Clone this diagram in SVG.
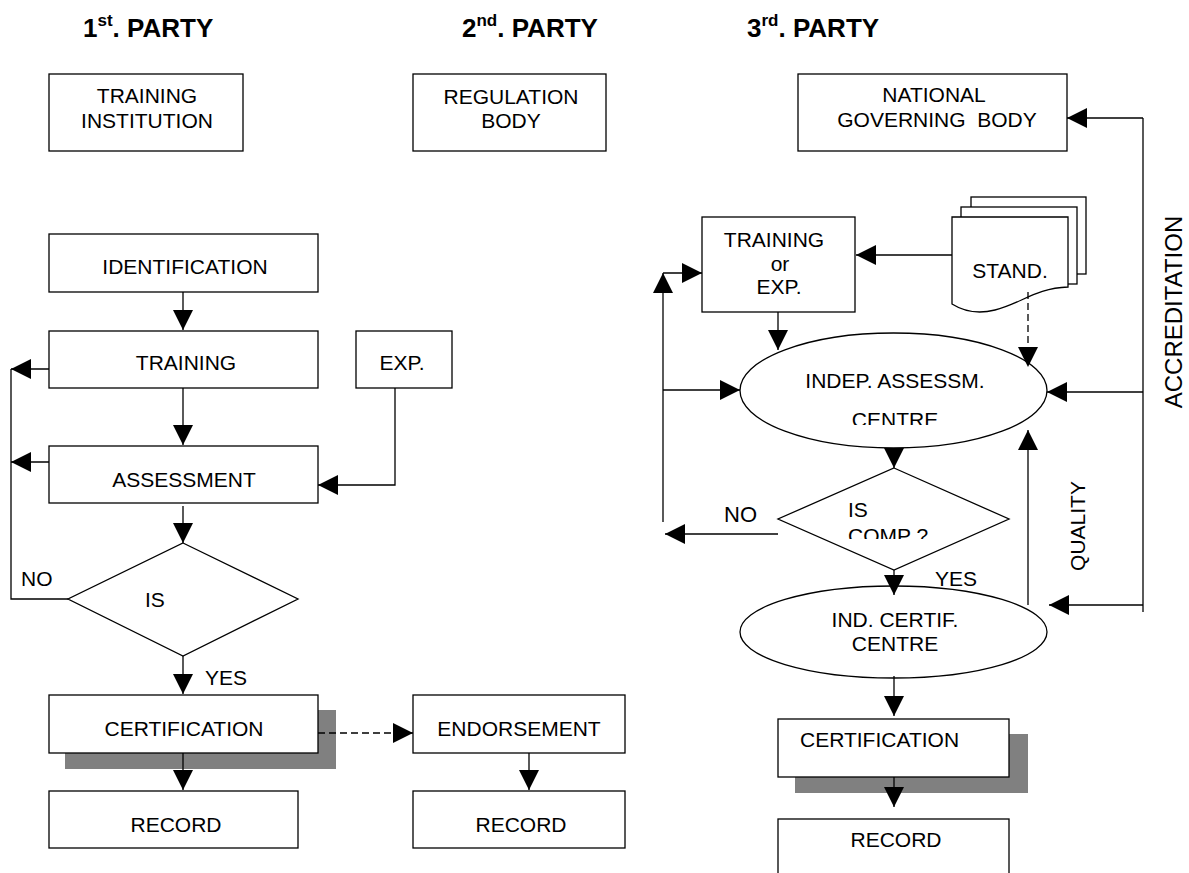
<svg xmlns="http://www.w3.org/2000/svg" width="1189" height="873" viewBox="0 0 1189 873">
<style>
  .box { fill: #fff; stroke: #000; stroke-width: 1.3; }
  .shadow { fill: #808080; stroke: none; }
  .t { font-family: "Liberation Sans", Arial, sans-serif; font-size: 21px; fill: #000; }
  .m { text-anchor: middle; }
  .h { font-family: "Liberation Sans", Arial, sans-serif; font-size: 26px; font-weight: bold; fill: #000; }
  .c { fill: none; stroke: #000; stroke-width: 1.3; }
  .a { marker-end: url(#arr); }
  .d { stroke-dasharray: 7 4; }
</style>
<defs>
  <marker id="arr" viewBox="0 0 20 20" refX="20" refY="10" markerWidth="20" markerHeight="20" markerUnits="userSpaceOnUse" orient="auto">
    <path d="M0,0 L20,10 L0,20 Z" fill="#000"/>
  </marker>
  <clipPath id="clipCentre"><rect x="740" y="380" width="310" height="45"/></clipPath>
  <clipPath id="clipComp"><rect x="778" y="500" width="240" height="39"/></clipPath>
</defs>
<rect width="1189" height="873" fill="#fff"/>

<g id="headers">
  <text class="h" x="83" y="37">1<tspan font-size="17" dy="-11">st</tspan><tspan dy="11">. PARTY</tspan></text>
  <text class="h" x="462" y="37">2<tspan font-size="17" dy="-11">nd</tspan><tspan dy="11">. PARTY</tspan></text>
  <text class="h" x="747" y="37">3<tspan font-size="17" dy="-11">rd</tspan><tspan dy="11">. PARTY</tspan></text>
</g>

<g id="training-institution">
  <rect class="box" x="49" y="74" width="194" height="77"/>
  <text class="t m" x="147" y="103">TRAINING</text>
  <text class="t m" x="147" y="128">INSTITUTION</text>
</g>
<g id="regulation-body">
  <rect class="box" x="413" y="74" width="193" height="77"/>
  <text class="t m" x="511" y="104">REGULATION</text>
  <text class="t m" x="511" y="128">BODY</text>
</g>
<g id="national-governing-body">
  <rect class="box" x="798" y="74" width="269" height="77"/>
  <text class="t m" x="934" y="102">NATIONAL</text>
  <text class="t m" x="937" y="127" xml:space="preserve">GOVERNING  BODY</text>
</g>

<g id="identification">
  <rect class="box" x="49" y="234" width="269" height="58"/>
  <text class="t m" x="185" y="274">IDENTIFICATION</text>
</g>
<g id="training">
  <rect class="box" x="49" y="331" width="269" height="57"/>
  <text class="t m" x="186" y="370">TRAINING</text>
</g>
<g id="exp">
  <rect class="box" x="356" y="331" width="96" height="57"/>
  <text class="t m" x="402" y="370">EXP.</text>
</g>
<g id="assessment">
  <rect class="box" x="49" y="446" width="269" height="57"/>
  <text class="t m" x="184" y="487">ASSESSMENT</text>
</g>
<g id="decision-left">
  <polygon class="box" points="183,543 298,599 183,656 68,599"/>
  <text class="t" x="145" y="607">IS</text>
</g>
<g id="certification-left">
  <rect class="shadow" x="65" y="710" width="271" height="59"/>
  <rect class="box" x="49" y="695" width="269" height="58"/>
  <text class="t m" x="184" y="736">CERTIFICATION</text>
</g>
<g id="record-left">
  <rect class="box" x="49" y="791" width="249" height="57"/>
  <text class="t m" x="176" y="832">RECORD</text>
</g>
<g id="endorsement">
  <rect class="box" x="413" y="695" width="212" height="58"/>
  <text class="t m" x="519" y="736">ENDORSEMENT</text>
</g>
<g id="record-middle">
  <rect class="box" x="413" y="791" width="212" height="57"/>
  <text class="t m" x="521" y="832">RECORD</text>
</g>

<g id="training-or-exp">
  <rect class="box" x="702" y="217" width="153" height="95"/>
  <text class="t m" x="774" y="247">TRAINING</text>
  <text class="t m" x="780" y="271">or</text>
  <text class="t m" x="779" y="294">EXP.</text>
</g>
<g id="standards">
  <rect class="box" x="971" y="197" width="115" height="77"/>
  <rect class="box" x="961" y="207" width="116" height="77"/>
  <path class="box" d="M952,217 L1068,217 L1068,287 C1036,288 1020,304 995,310 C975,315 960,309 952,304 Z"/>
  <text class="t m" x="1010" y="278">STAND.</text>
</g>
<g id="indep-assessment-centre">
  <ellipse class="box" cx="893.5" cy="390.5" rx="153.5" ry="57.5"/>
  <text class="t m" x="895" y="388">INDEP. ASSESSM.</text>
  <text class="t m" x="895" y="427" clip-path="url(#clipCentre)">CENTRE</text>
</g>
<g id="decision-right">
  <polygon class="box" points="894,468 1009,519 894,570 778,519"/>
  <text class="t" x="848" y="517">IS</text>
  <text class="t" x="848" y="543" clip-path="url(#clipComp)">COMP ?</text>
</g>
<g id="ind-certif-centre">
  <ellipse class="box" cx="893.5" cy="632" rx="153.5" ry="46"/>
  <text class="t m" x="895" y="627">IND. CERTIF.</text>
  <text class="t m" x="895" y="651">CENTRE</text>
</g>
<g id="certification-right">
  <rect class="shadow" x="795" y="734" width="233" height="59"/>
  <rect class="box" x="778" y="719" width="231" height="58"/>
  <text class="t" x="800" y="747">CERTIFICATION</text>
</g>
<g id="record-right">
  <rect class="box" x="778" y="819" width="231" height="80"/>
  <text class="t m" x="896" y="847">RECORD</text>
</g>

<g id="labels">
  <text class="t" x="21" y="586">NO</text>
  <text class="t" x="205" y="685">YES</text>
  <text class="t" x="724" y="522" style="font-size:22px">NO</text>
  <text class="t" x="935" y="586">YES</text>
  <text class="t m" transform="translate(1085,526) rotate(-90)">QUALITY</text>
  <text class="t m" transform="translate(1182,312) rotate(-90)" style="font-size:24px">ACCREDITATION</text>
</g>

<g id="connectors">
  <path class="c a" d="M183,292 L183,330"/>
  <path class="c a" d="M183,388 L183,445"/>
  <path class="c a" d="M49,369 L11,369"/>
  <path class="c a" d="M49,462 L11,462"/>
  <path class="c" d="M68,599 L11,599 L11,369"/>
  <path class="c a" d="M395,388 L395,485 L318,485"/>
  <path class="c a" d="M183,506 L183,543"/>
  <path class="c a" d="M183,656 L183,694"/>
  <path class="c a d" d="M318,733 L413,733"/>
  <path class="c a" d="M183,753 L183,790"/>
  <path class="c a" d="M529,753 L529,790"/>
  <path class="c a" d="M952,255 L856,255"/>
  <path class="c a d" d="M1028,292 L1028,367"/>
  <path class="c a" d="M778,312 L778,350"/>
  <path class="c a" d="M663,522 L663,273"/>
  <path class="c a" d="M663,273 L702,273"/>
  <path class="c a" d="M663,390 L740,390"/>
  <path class="c a" d="M778,534 L665,534"/>
  <path class="c a" d="M894,448 L894,468"/>
  <path class="c a" d="M894,570 L894,595"/>
  <path class="c a" d="M1028,605 L1028,430"/>
  <path class="c" d="M1143,118 L1143,612"/>
  <path class="c a" d="M1143,118 L1067,118"/>
  <path class="c a" d="M1143,392 L1047,392"/>
  <path class="c a" d="M1143,605 L1049,605"/>
  <path class="c a" d="M894,676 L894,716"/>
  <path class="c a" d="M894,777 L894,807"/>
</g>
</svg>
